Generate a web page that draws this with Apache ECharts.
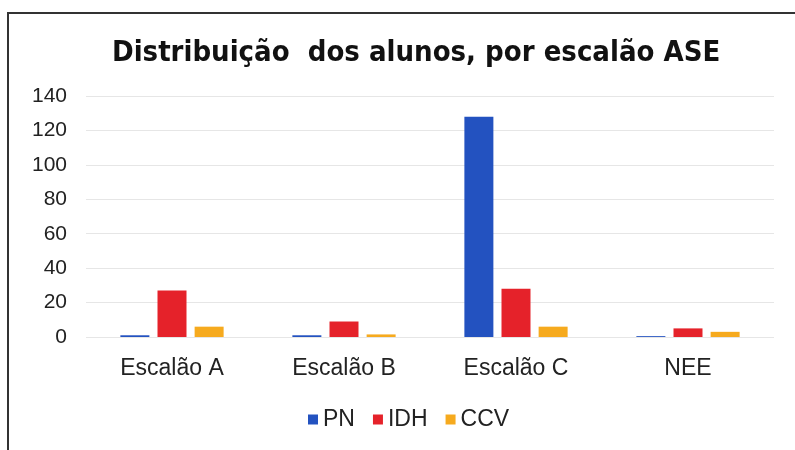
<!DOCTYPE html>
<html>
<head>
<meta charset="utf-8">
<script src="https://cdn.jsdelivr.net/npm/echarts@6/dist/echarts.min.js"></script>
<style>
  html, body { margin: 0; padding: 0; background: #fff; }
  #frame { position: absolute; left: 7px; top: 12px; width: 800px; height: 450px;
           border-left: 2px solid #333; border-top: 2px solid #333; }
  #chart { position: absolute; left: 0; top: 0; width: 795px; height: 450px; }
</style>
</head>
<body>
<div id="frame"></div>
<div id="chart"></div>
<script>
// categorias e valores
var categories = ['Escalão A', 'Escalão B', 'Escalão C', 'NEE'];
var pnValues  = [1, 1, 128, 0.5];
var idhValues = [27, 9, 28, 5];
var ccvValues = [6, 1.5, 6, 3];
var seriesNames = ['PN', 'IDH', 'CCV'];
var colors = ['#2352c0', '#e5222a', '#f6aa1e'];

var chart = echarts.init(document.getElementById('chart'));

function bar(name, data, color) {
    return {
        name: name,
        type: 'bar',
        data: data,
        barWidth: 29,
        barGap: '28%',
        itemStyle: { color: color }
    };
}

var option = {
    animation: false,
    color: colors,
    title: {
        text: 'Distribuição  dos alunos, por escalão ASE',
        left: 107,
        top: 34,
        textStyle: {
            fontFamily: 'DejaVu Sans Condensed',
            fontWeight: 'bold',
            fontSize: 29,
            color: '#111'
        }
    },
    legend: {
        data: seriesNames,
        bottom: 14,
        left: 303,
        icon: 'rect',
        itemWidth: 10,
        itemHeight: 10,
        itemGap: 18,
        textStyle: { fontFamily: 'Liberation Sans', fontSize: 23, color: '#222' }
    },
    grid: { left: 86, right: 21, top: 96, bottom: 113 },
    xAxis: {
        type: 'category',
        data: categories,
        axisLine: { show: false },
        axisTick: { show: false },
        axisLabel: { fontFamily: 'Liberation Sans', fontSize: 23, color: '#222', margin: 20 }
    },
    yAxis: {
        type: 'value',
        min: 0,
        max: 140,
        interval: 20,
        axisLine: { show: false },
        axisTick: { show: false },
        axisLabel: { fontFamily: 'Liberation Sans', fontSize: 21, color: '#222', margin: 19 },
        splitLine: { lineStyle: { color: '#e6e6e6' } }
    },
    series: [
        bar(seriesNames[0], pnValues, colors[0]),
        bar(seriesNames[1], idhValues, colors[1]),
        bar(seriesNames[2], ccvValues, colors[2])
    ]
};

chart.setOption(option);
window.addEventListener('resize', function () { chart.resize(); });
</script>
</body>
</html>
